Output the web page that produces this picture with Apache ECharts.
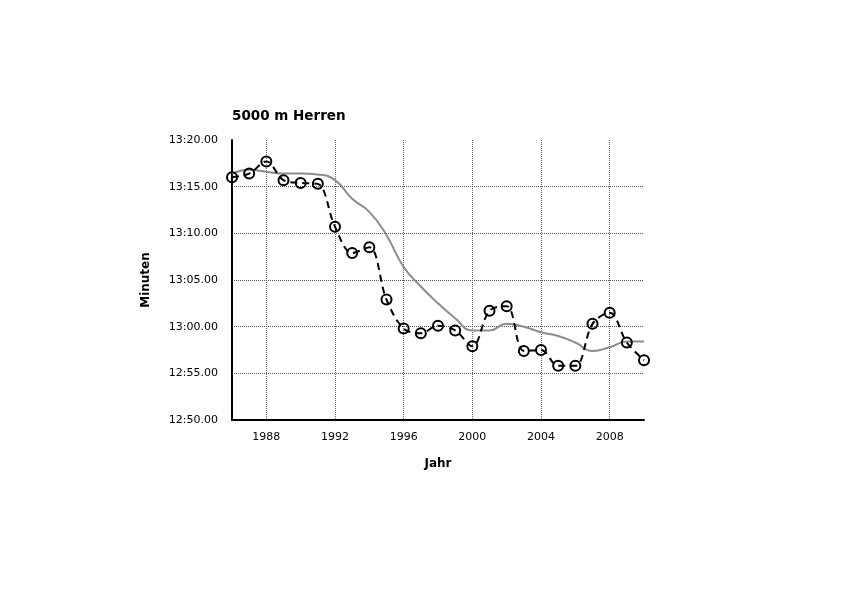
<!DOCTYPE html>
<html>
<head>
<meta charset="utf-8">
<script src="https://cdn.jsdelivr.net/npm/echarts@6/dist/echarts.min.js"></script>
<style>
html,body{margin:0;padding:0;background:#fff;}
#c{width:842px;height:595px;}
</style>
</head>
<body>
<div id="c"></div>
<script>
// Years (x categories)
const years = ['1986','1987','1988','1989','1990','1991','1992','1993','1994','1995','1996','1997','1998','1999','2000','2001','2002','2003','2004','2005','2006','2007','2008','2009','2010'];
// Winning/best times in seconds (e.g. 796.0 = 13:16.00)
const times = [796.0, 796.4, 797.7, 795.7, 795.4, 795.3, 790.7, 787.9, 788.5, 782.9, 779.8, 779.3, 780.1, 779.6, 777.9, 781.7, 782.2, 777.4, 777.5, 775.8, 775.8, 780.3, 781.5, 778.3, 776.4];
// Smoothed trend in seconds
const trend = [796.4, 796.8, 796.6, 796.4, 796.4, 796.3, 795.7, 793.7, 792.3, 789.8, 786.4, 784.3, 782.5, 780.9, 779.6, 779.6, 780.3, 780.0, 779.4, 779.0, 778.3, 777.4, 777.8, 778.4, 778.4];
// Y axis settings (seconds)
const yMin = 770, yMax = 800, yStep = 5;
const titleText = '5000 m Herren';
const xName = 'Jahr';
const yName = 'Minuten';

function fmt(v){
  const m = Math.floor(v/60);
  const s = v - m*60;
  const ss = (s<10?'0':'') + s.toFixed(2);
  return m + ':' + ss;
}
const showYear = (i, v) => (parseInt(v,10) % 4 === 0);

const chart = echarts.init(document.getElementById('c'), null, {renderer:'canvas'});
chart.setOption({
  animation:false,
  backgroundColor:'#fff',
  title:{text:titleText, left:227, top:104,
    textStyle:{fontFamily:'DejaVu Sans', fontSize:13.5, fontWeight:'bold', color:'#000'}},
  grid:{left:232, right:198, top:140, bottom:175, containLabel:false},
  xAxis:{
    type:'category', data:years, boundaryGap:false,
    name:xName, nameLocation:'middle', nameGap:38,
    nameTextStyle:{fontFamily:'DejaVu Sans', fontSize:12, fontWeight:'bold', color:'#000'},
    axisLine:{show:true, lineStyle:{color:'#000', width:2}},
    axisTick:{show:false},
    axisLabel:{interval:showYear, margin:12, fontFamily:'DejaVu Sans', fontSize:11, color:'#000'},
    splitLine:{show:true, interval:showYear, lineStyle:{color:'#666', type:'dotted', width:1}}
  },
  yAxis:{
    type:'value', min:yMin, max:yMax, interval:yStep,
    name:yName, nameLocation:'middle', nameGap:80, nameRotate:90,
    nameTextStyle:{fontFamily:'DejaVu Sans', fontSize:12, fontWeight:'bold', color:'#000'},
    axisLine:{show:true, lineStyle:{color:'#000', width:2}},
    axisTick:{show:false},
    axisLabel:{formatter:fmt, margin:14, fontFamily:'DejaVu Sans', fontSize:11, color:'#000'},
    splitLine:{show:true, showMinLine:false, showMaxLine:false, lineStyle:{color:'#555', type:'dotted', width:1}}
  },
  series:[
    {type:'line', data:trend, smooth:0.5, symbol:'none', z:2,
     lineStyle:{color:'#8c8c8c', width:2}},
    {type:'line', data:times, smooth:0.35, symbol:'circle', symbolSize:10, z:3,
     lineStyle:{color:'#000', width:2, type:[7,5]},
     itemStyle:{color:'rgba(255,255,255,0)', borderColor:'#000', borderWidth:2}}
  ]
});
</script>
</body>
</html>
